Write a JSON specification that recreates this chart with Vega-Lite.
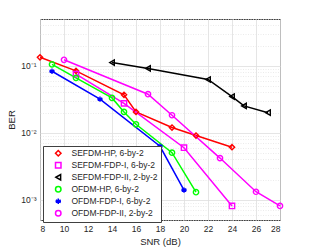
{
  "$schema": "https://vega.github.io/schema/vega-lite/v6.json",
  "width": 240,
  "height": 201,
  "autosize": "none",
  "padding": {"left": 40, "top": 19, "right": 29, "bottom": 30},
  "background": "white",
  "config": {
    "font": "Liberation Sans",
    "view": {"stroke": "#404040", "strokeWidth": 1},
    "axis": {"labelFont": "Liberation Sans", "titleFont": "Liberation Sans", "labelColor": "#262626", "titleColor": "#262626", "domainColor": "#404040", "titleFontWeight": "normal"}
  },
  "data": {"values": [
    {"snr": 8, "ber": 0.134, "scheme": "SEFDM-HP, 6-by-2"},
    {"snr": 11, "ber": 0.084, "scheme": "SEFDM-HP, 6-by-2"},
    {"snr": 15, "ber": 0.037, "scheme": "SEFDM-HP, 6-by-2"},
    {"snr": 16, "ber": 0.0205, "scheme": "SEFDM-HP, 6-by-2"},
    {"snr": 19, "ber": 0.012, "scheme": "SEFDM-HP, 6-by-2"},
    {"snr": 21, "ber": 0.0091, "scheme": "SEFDM-HP, 6-by-2"},
    {"snr": 24, "ber": 0.0061, "scheme": "SEFDM-HP, 6-by-2"},
    {"snr": 11, "ber": 0.075, "scheme": "SEFDM-FDP-I, 6-by-2"},
    {"snr": 15, "ber": 0.0275, "scheme": "SEFDM-FDP-I, 6-by-2"},
    {"snr": 20, "ber": 0.006, "scheme": "SEFDM-FDP-I, 6-by-2"},
    {"snr": 24, "ber": 0.00081, "scheme": "SEFDM-FDP-I, 6-by-2"},
    {"snr": 14, "ber": 0.112, "scheme": "SEFDM-FDP-II, 2-by-2"},
    {"snr": 17, "ber": 0.0914, "scheme": "SEFDM-FDP-II, 2-by-2"},
    {"snr": 22, "ber": 0.0625, "scheme": "SEFDM-FDP-II, 2-by-2"},
    {"snr": 24, "ber": 0.0348, "scheme": "SEFDM-FDP-II, 2-by-2"},
    {"snr": 25, "ber": 0.0252, "scheme": "SEFDM-FDP-II, 2-by-2"},
    {"snr": 27, "ber": 0.02, "scheme": "SEFDM-FDP-II, 2-by-2"},
    {"snr": 9, "ber": 0.105, "scheme": "OFDM-HP, 6-by-2"},
    {"snr": 11, "ber": 0.066, "scheme": "OFDM-HP, 6-by-2"},
    {"snr": 14, "ber": 0.0332, "scheme": "OFDM-HP, 6-by-2"},
    {"snr": 15, "ber": 0.0205, "scheme": "OFDM-HP, 6-by-2"},
    {"snr": 16, "ber": 0.0134, "scheme": "OFDM-HP, 6-by-2"},
    {"snr": 19, "ber": 0.00506, "scheme": "OFDM-HP, 6-by-2"},
    {"snr": 21, "ber": 0.0013, "scheme": "OFDM-HP, 6-by-2"},
    {"snr": 9, "ber": 0.083, "scheme": "OFDM-FDP-I, 6-by-2"},
    {"snr": 13, "ber": 0.0318, "scheme": "OFDM-FDP-I, 6-by-2"},
    {"snr": 18, "ber": 0.0063, "scheme": "OFDM-FDP-I, 6-by-2"},
    {"snr": 20, "ber": 0.0014, "scheme": "OFDM-FDP-I, 6-by-2"},
    {"snr": 10, "ber": 0.123, "scheme": "OFDM-FDP-II, 2-by-2"},
    {"snr": 17, "ber": 0.0377, "scheme": "OFDM-FDP-II, 2-by-2"},
    {"snr": 19, "ber": 0.0183, "scheme": "OFDM-FDP-II, 2-by-2"},
    {"snr": 23, "ber": 0.0042, "scheme": "OFDM-FDP-II, 2-by-2"},
    {"snr": 26, "ber": 0.00132, "scheme": "OFDM-FDP-II, 2-by-2"},
    {"snr": 28, "ber": 0.00081, "scheme": "OFDM-FDP-II, 2-by-2"}
  ]},
  "encoding": {
    "x": {"field": "snr", "type": "quantitative",
      "scale": {"domain": [8, 28], "nice": false, "zero": false},
      "axis": {"values": [8,10,12,14,16,18,20,22,24,26,28], "title": "SNR (dB)", "titleFontSize": 9.5, "labelFontSize": 8.5, "labelPadding": 4, "titlePadding": 4, "ticks": false, "gridColor": "#dedede", "gridWidth": 0.8, "domain": false}
    },
    "color": {"field": "scheme", "type": "nominal",
      "scale": {"domain": ["SEFDM-HP, 6-by-2", "SEFDM-FDP-I, 6-by-2", "SEFDM-FDP-II, 2-by-2", "OFDM-HP, 6-by-2", "OFDM-FDP-I, 6-by-2", "OFDM-FDP-II, 2-by-2"],
                "range": ["#ff0000", "#ff00ff", "#000000", "#00ff00", "#0000ff", "#ff00ff"]}
    }
  },
  "layer": [
    {
      "mark": {"type": "line", "strokeWidth": 1.5},
      "encoding": {
        "y": {"field": "ber", "type": "quantitative",
          "scale": {"type": "log", "domain": [0.0005, 0.5], "nice": false},
          "axis": {"values": [0.0005,0.0006,0.0007,0.0008,0.0009,0.002,0.003,0.004,0.005,0.006,0.007,0.008,0.009,0.02,0.03,0.04,0.05,0.06,0.07,0.08,0.09,0.2,0.3,0.4,0.5], "labels": false, "ticks": false, "domain": false, "title": null, "grid": true, "gridDash": [1, 1.5], "gridColor": "#e2e2e2", "gridWidth": 0.7}
        }
      }
    },
    {
      "mark": {"type": "point", "filled": false, "strokeWidth": 1.4, "size": 28, "opacity": 1},
      "encoding": {
        "y": {"field": "ber", "type": "quantitative",
          "axis": {"orient": "left", "values": [0.001, 0.01, 0.1], "labelExpr": "datum.value < 0.005 ? '10⁻³' : datum.value < 0.05 ? '10⁻²' : '10⁻¹'", "labelFontSize": 8.5, "labelPadding": 4, "title": "BER", "titleFontSize": 9.5, "titlePadding": 4, "ticks": false, "grid": true, "gridColor": "#dedede", "gridWidth": 0.8, "domain": false}
        },
        "shape": {"field": "scheme", "type": "nominal",
          "scale": {"domain": ["SEFDM-HP, 6-by-2", "SEFDM-FDP-I, 6-by-2", "SEFDM-FDP-II, 2-by-2", "OFDM-HP, 6-by-2", "OFDM-FDP-I, 6-by-2", "OFDM-FDP-II, 2-by-2"],
                    "range": ["diamond", "square", "triangle-left", "circle", "M0,-1V1M-0.87,-0.5L0.87,0.5M-0.87,0.5L0.87,-0.5M-1,0H1", "circle"]},
          "legend": {
            "title": null, "orient": "none", "legendX": 3, "legendY": 127,
            "labelFontSize": 8.5, "labelColor": "#262626", "labelFont": "Liberation Sans",
            "symbolSize": 30, "symbolStrokeWidth": 1.5, "symbolFillColor": "transparent",
            "rowPadding": 0, "symbolOffset": 8, "labelOffset": 9,
            "padding": 3, "strokeColor": "#404040", "fillColor": "white"
          }
        }
      }
    }
  ],
  "resolve": {"axis": {"y": "independent"}}
}
